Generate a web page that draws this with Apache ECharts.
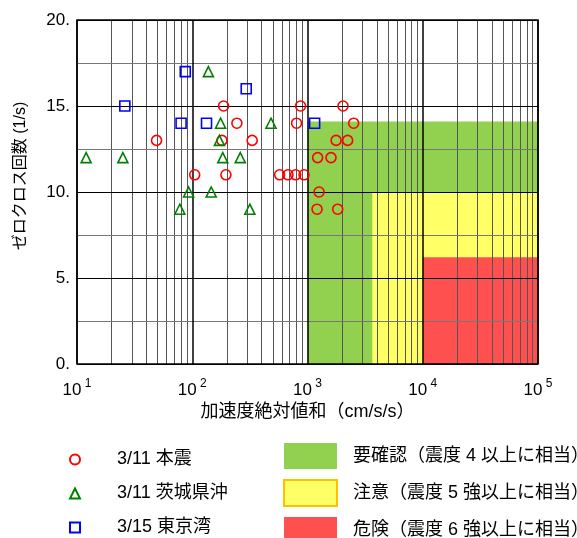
<!DOCTYPE html>
<html>
<head>
<meta charset="UTF-8">
<title></title>
<style>html,body{margin:0;padding:0;background:#fff;}</style>
</head>
<body>
<div id="chart" style="width:577px;height:538px;"></div>
<script src="https://cdn.jsdelivr.net/npm/echarts@6/dist/echarts.min.js"></script>
<script>
// 3/11 本震
var honshinX = [49, 105, 181, 187, 196, 244, 331, 573, 677, 789, 933, 804, 871, 1224, 1260, 1210, 1600, 1771, 1828, 2033, 2230, 2515];
var honshinY = [13, 11, 13, 15, 11, 14, 13, 11, 11, 11, 11, 14, 15, 12, 10, 9, 12, 13, 9, 15, 13, 14];
// 3/11 茨城県沖
var ibarakiX = [12, 25, 78, 93, 138, 146, 172, 176, 184, 261, 316, 482];
var ibarakiY = [12, 12, 9, 10, 17, 10, 13, 14, 12, 12, 9, 14];
// 3/15 東京湾
var tokyoX = [26, 80, 87, 133, 294, 1153];
var tokyoY = [15, 14, 17, 14, 16, 14];

var seriesNames = ['3/11 本震', '3/11 茨城県沖', '3/15 東京湾'];

// 判定領域 (x開始, y上限)
var zoneNames = ['要確認（震度 4 以上に相当）', '注意（震度 5 強以上に相当）', '危険（震度 6 強以上に相当）'];
var zoneXStart = [1000, 3650, 10000];
var zoneYTop = [14.1, 10, 6.2];
var zoneColors = ['#92d050', '#ffff66', '#ff5050'];

var xMin = 10, xMax = 100000;
var yTicks = [0, 5, 10, 15, 20];

var FONT = "'Liberation Sans', 'Noto Sans CJK JP', sans-serif";

function pairs(xs, ys) {
	var out = [];
	for (var i = 0; i < xs.length; i++) out.push([xs[i], ys[i]]);
	return out;
}

// 対数目盛の補助線 (2～9倍)
var minorLines = [];
for (var d = xMin; d < xMax; d *= 10) {
	for (var m = 2; m <= 9; m++) minorLines.push({ xAxis: m * d });
}

var chart = echarts.init(document.getElementById('chart'));

var series = [];
for (var z = 0; z < zoneNames.length; z++) {
	series.push({
		name: zoneNames[z],
		type: 'scatter',
		data: [],
		z: -2,
		itemStyle: { color: zoneColors[z], opacity: 1 },
		markArea: {
			silent: true,
			z: -2,
			itemStyle: { color: zoneColors[z], opacity: 1 },
			data: [[{ xAxis: zoneXStart[z], yAxis: zoneYTop[z] }, { xAxis: xMax, yAxis: 0 }]]
		}
	});
}
series.push({
	type: 'scatter',
	data: [],
	z: -1,
	markLine: {
		silent: true,
		z: -1,
		symbol: 'none',
		label: { show: false },
		lineStyle: { color: '#555', width: 1, type: 'solid' },
		data: minorLines
	}
});

var markerDefs = [
	{ x: honshinX, y: honshinY, symbol: 'circle', color: '#ff0000' },
	{ x: ibarakiX, y: ibarakiY, symbol: 'triangle', color: '#008000' },
	{ x: tokyoX, y: tokyoY, symbol: 'rect', color: '#0000ff' }
];
for (var s = 0; s < markerDefs.length; s++) {
	series.push({
		name: seriesNames[s],
		type: 'scatter',
		symbol: markerDefs[s].symbol,
		symbolSize: 10,
		z: 5,
		itemStyle: { color: 'rgba(0,0,0,0)', borderColor: markerDefs[s].color, borderWidth: 1.6, opacity: 1 },
		data: pairs(markerDefs[s].x, markerDefs[s].y)
	});
}

var option = {
	animation: false,
	textStyle: { fontFamily: FONT },
	grid: {
		left: 77, right: 39, top: 20, bottom: 174,
		show: true, borderColor: '#000', borderWidth: 1.5, backgroundColor: 'transparent'
	},
	xAxis: {
		type: 'log',
		logBase: 10,
		min: xMin,
		max: xMax,
		name: '加速度絶対値和（cm/s/s）',
		nameLocation: 'middle',
		nameGap: 39,
		nameTextStyle: { fontSize: 18, color: '#000', fontFamily: FONT },
		axisLine: { show: false },
		axisTick: { show: false },
		splitLine: { show: true, lineStyle: { color: '#000', width: 1.5 } },
		axisLabel: {
			margin: 14,
			color: '#000',
			formatter: function (v) {
				var e = Math.round(Math.log(v) / Math.LN10);
				return '{b|10}{s| ' + e + '}';
			},
			rich: {
				b: { fontSize: 17, fontFamily: FONT, color: '#000' },
				s: { fontSize: 12, fontFamily: FONT, color: '#000', padding: [0, 0, 12, 0] }
			}
		}
	},
	yAxis: {
		type: 'value',
		min: 0,
		max: 20,
		interval: 2.5,
		name: 'ゼロクロス回数 (1/s)',
		nameLocation: 'middle',
		nameRotate: 90,
		nameGap: 48,
		nameTextStyle: { fontSize: 16, color: '#000', fontFamily: FONT, padding: [0, 0, 0, 32] },
		axisLine: { show: false },
		axisTick: { show: false },
		splitLine: { show: true, lineStyle: { color: ['#000', '#777'], width: 1 } },
		axisLabel: {
			margin: 7,
			fontSize: 17,
			color: '#000',
			formatter: function (v) {
				return yTicks.indexOf(v) >= 0 ? v + '.' : '';
			}
		}
	},
	legend: [
		{
			orient: 'vertical',
			left: 69,
			top: 449,
			height: 150,
			padding: 0,
			itemWidth: 10,
			itemHeight: 10,
			itemGap: 13,
			data: seriesNames,
			selectedMode: false,
			textStyle: { fontSize: 18, color: '#000', fontFamily: FONT, lineHeight: 21, padding: [0, 0, 0, 32] }
		},
		{
			orient: 'vertical',
			left: 283,
			top: 443,
			height: 150,
			padding: 0,
			itemWidth: 53,
			itemHeight: 26,
			itemGap: 10,
			selectedMode: false,
			data: [
				{ name: zoneNames[0], icon: 'rect' },
				{ name: zoneNames[1], icon: 'rect', itemStyle: { borderColor: '#ffc000', borderWidth: 2 } },
				{ name: zoneNames[2], icon: 'rect' }
			],
			textStyle: { fontSize: 18, color: '#000', fontFamily: FONT, padding: [0, 0, 0, 11] }
		}
	],
	series: series
};

chart.setOption(option);
</script>
</body>
</html>
